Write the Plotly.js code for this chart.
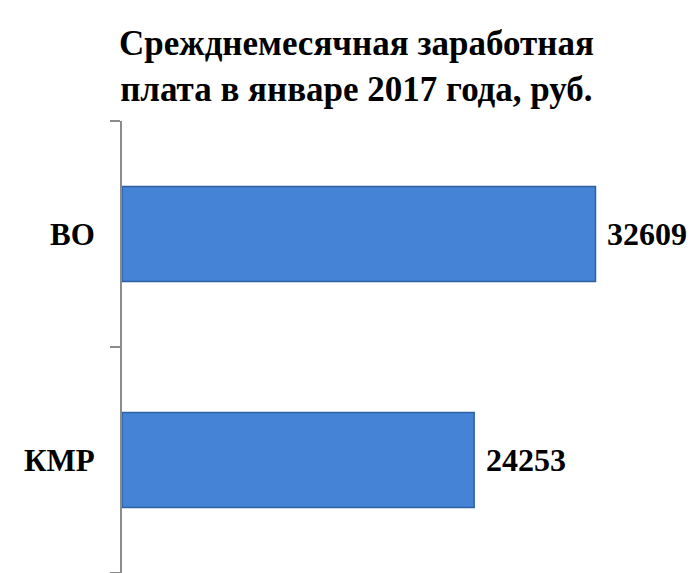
<!DOCTYPE html>
<html>
<head>
<meta charset="utf-8">
<script src="https://cdn.plot.ly/plotly-3.0.1.min.js"></script>
<style>html,body{margin:0;padding:0;background:#fff;}#chart{width:691px;height:573px;}</style>
</head>
<body>
<div id="chart"></div>
<script>
const categories = ['КМР', 'ВО'];
const salaries = [24253, 32609];
const titleLines = ['Срежднемесячная заработная', 'плата в январе 2017 года, руб.'];

const SERIF = '"Liberation Serif", "Times New Roman", "DejaVu Serif", serif';

const trace = {
  type: 'bar',
  orientation: 'h',
  y: categories,
  x: salaries,
  width: 0.42,
  marker: {color: '#4483d5', line: {color: '#2d609f', width: 1.5}},
  hoverinfo: 'none'
};

const annotations = categories.map((c, i) => ({
  x: salaries[i], y: c, xref: 'x', yref: 'y',
  text: '<b>' + salaries[i] + '</b>', showarrow: false,
  xanchor: 'left', xshift: 10,
  font: {family: SERIF, size: 32, color: '#000'}
}));

annotations.push({
  xref: 'paper', yref: 'paper', x: 0.42, y: 1.12,
  xanchor: 'center', yanchor: 'middle', showarrow: false,
  text: '<b>' + titleLines.join('<br>') + '</b>',
  font: {family: SERIF, size: 35, color: '#000'}
});

const layout = {
  width: 691, height: 573,
  margin: {l: 122, r: 10, t: 121, b: 0},
  paper_bgcolor: '#fff', plot_bgcolor: '#fff',
  showlegend: false,
  xaxis: {range: [0, 38500], visible: false, fixedrange: true},
  yaxis: {
    type: 'category',
    showline: true, linecolor: '#8c8c8c', linewidth: 2,
    ticks: 'outside', ticklen: 10, tickcolor: '#8c8c8c', tickwidth: 2,
    tickson: 'boundaries',
    showgrid: false, zeroline: false,
    ticklabelstandoff: 19,
    tickfont: {family: SERIF, size: 31, color: '#000', weight: 'bold'}
  },
  annotations: annotations
};

Plotly.newPlot('chart', [trace], layout, {displayModeBar: false, staticPlot: true});
</script>
</body>
</html>
